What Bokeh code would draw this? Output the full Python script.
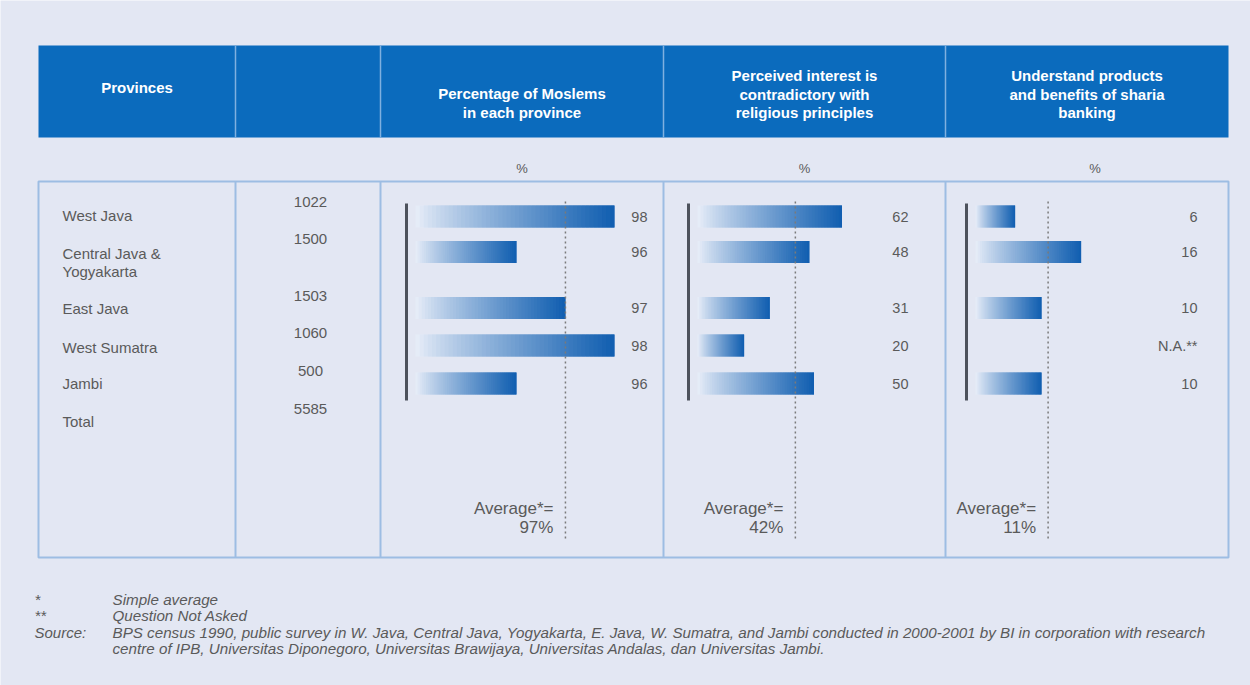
from bokeh.plotting import figure
from bokeh.models import Range1d
from bokeh.embed import file_html
from bokeh.resources import INLINE
from bokeh.core.properties import value

# ---------------- data ----------------
provinces = ["West Java", "Central Java &|Yogyakarta", "East Java", "West Sumatra", "Jambi", "Total"]
respondents = ["1022", "1500", "1503", "1060", "500", "5585"]
pct_moslem = [98, 96, 97, 98, 96]
interest_contra = [62, 48, 31, 20, 50]
understand = [6, 16, 10, None, 10]
averages = [97, 42, 11]
header_titles = [
    ["Provinces"],
    [],
    ["Percentage of Moslems", "in each province"],
    ["Perceived interest is", "contradictory with", "religious principles"],
    ["Understand products", "and benefits of sharia", "banking"],
]
unit_label = "%"
na_label = "N.A.**"
footnote_marks = ["*", "**", "Source:"]
footnote_texts = [
    ["Simple average"],
    ["Question Not Asked"],
    ["BPS census 1990, public survey in W. Java, Central Java, Yogyakarta, E. Java, W. Sumatra, and Jambi conducted in 2000-2001 by BI in corporation with research",
     "centre of IPB, Universitas Diponegoro, Universitas Brawijaya, Universitas Andalas, dan Universitas Jambi."],
]

# ---------------- layout ----------------
W, H = 1250, 685
FONT = "Liberation Sans"
BG = "#e3e7f3"
HEAD = "#0b6bbd"
BORDER = "#9dbde3"
TXT = "#5a5a5a"

col_edges = [38, 235, 380, 663, 945, 1228]
head_top, head_bot = 45, 137
body_top, body_bot = 181, 557

bar_y = [216, 251.5, 307.5, 345, 383]
bar_h = 22
label_y = [[215], [253, 271], [308], [347], [383], [421]]
resp_y = [201, 238, 295, 332, 370, 408]

# panel scale geometry: baseline pixel, pixels per unit, baseline value
panels = [
    dict(data=pct_moslem, bx=415, s=49.0, base=93.94, lab_x=647),
    dict(data=interest_contra, bx=697, s=2.33, base=0.0, lab_x=908),
    dict(data=understand, bx=975, s=6.6, base=0.0, lab_x=1197),
]

p = figure(width=W, height=H, x_range=Range1d(0, W), y_range=Range1d(H, 0),
           output_backend="svg", toolbar_location=None,
           x_axis_location=None, y_axis_location=None, min_border=0)
p.grid.visible = False
p.outline_line_color = None
p.background_fill_color = BG
p.border_fill_color = BG

# header band
p.quad(left=[col_edges[0]], right=[col_edges[-1]], top=[head_top], bottom=[head_bot],
       fill_color=HEAD, line_color=None)
for x in col_edges[1:-1]:
    p.segment(x0=[x], x1=[x], y0=[head_top], y1=[head_bot], line_color="#7fb0e0", line_width=1.5)

for i, lines in enumerate(header_titles):
    cx = (col_edges[i] + col_edges[i + 1]) / 2
    n = len(lines)
    if n == 0:
        continue
    if n == 1:
        ys = [87]
    elif n == 2:
        ys = [93, 111.5]
    else:
        ys = [75, 93.5, 112]
    p.text(x=[cx] * n, y=ys, text=lines, text_color="white", text_font=value(FONT),
           text_font_size="15px", text_font_style="bold", text_align="center",
           text_baseline="middle")

# unit labels
for i in range(3):
    cx = (col_edges[i + 2] + col_edges[i + 3]) / 2 + (8 if i == 2 else 0)
    p.text(x=[cx], y=[168], text=[unit_label], text_color=TXT, text_font=value(FONT),
           text_font_size="13px", text_align="center", text_baseline="middle")

# body box
p.quad(left=[col_edges[0]], right=[col_edges[-1]], top=[body_top], bottom=[body_bot],
       fill_color=None, line_color=BORDER, line_width=2)
for x in col_edges[1:-1]:
    p.segment(x0=[x], x1=[x], y0=[body_top], y1=[body_bot], line_color=BORDER, line_width=2)

# province labels
for lines, ys in zip(provinces, label_y):
    parts = lines.split("|")
    p.text(x=[62] * len(parts), y=ys, text=parts, text_color=TXT, text_font=value(FONT),
           text_font_size="15px", text_align="left", text_baseline="middle")

# respondents
p.text(x=[310] * len(respondents), y=resp_y, text=respondents, text_color=TXT,
       text_font=value(FONT), text_font_size="15px", text_align="center", text_baseline="middle")

# colour ramp
def ramp(t):
    c0 = (234, 239, 249)
    c1 = (16, 94, 176)
    t = t ** 0.85
    return "#%02x%02x%02x" % tuple(int(round(a + (b - a) * t)) for a, b in zip(c0, c1))

N = 48
for k, pan in enumerate(panels):
    name = "p%d" % k
    start = pan["base"] - pan["bx"] / pan["s"]
    p.extra_x_ranges[name] = Range1d(start, start + W / pan["s"])
    base = pan["base"]
    lefts, rights, ys, cols = [], [], [], []
    for v, y in zip(pan["data"], bar_y):
        if v is None:
            continue
        for j in range(N):
            l = base + (v - base) * j / N
            r = base + (v - base) * min(j + 2.0, N) / N
            lefts.append(l)
            rights.append(r)
            ys.append(y)
            cols.append(ramp((j + 0.5) / N))
    p.hbar(y=ys, left=lefts, right=rights, height=bar_h, fill_color=cols,
           line_color=None, x_range_name=name)
    # vertical baseline line
    lx = pan["bx"] - 9
    p.segment(x0=[lx], x1=[lx], y0=[203], y1=[400], line_color="#4d525c", line_width=3)
    # average dotted line
    avg = averages[k]
    p.segment(x0=[avg], x1=[avg], y0=[201], y1=[538], line_color="#7a7a7a",
              line_width=1.5, line_dash="2 3", x_range_name=name)
    p.text(x=[avg, avg], y=[508, 527], text=["Average*=", "%d%%" % avg], text_color=TXT,
           text_font=value(FONT), text_font_size="17px", text_align="right",
           text_baseline="middle", x_offset=-12, x_range_name=name)
    # value labels
    labs = [str(v) if v is not None else na_label for v in pan["data"]]
    p.text(x=[pan["lab_x"]] * len(labs), y=bar_y, text=labs, text_color=TXT,
           text_font=value(FONT), text_font_size="14.5px", text_align="right",
           text_baseline="middle")

# footnotes
fy = [599, 615, 632]
for mark, texts, y in zip(footnote_marks, footnote_texts, fy):
    p.text(x=[34], y=[y], text=[mark], text_color=TXT, text_font=value(FONT),
           text_font_size="15px", text_font_style="italic", text_align="left",
           text_baseline="middle")
    p.text(x=[112] * len(texts), y=[y + 16 * i for i in range(len(texts))], text=texts,
           text_color=TXT, text_font=value(FONT), text_font_size="15.2px",
           text_font_style="italic", text_align="left", text_baseline="middle")

open("out.html", "w").write(file_html(p, INLINE))
